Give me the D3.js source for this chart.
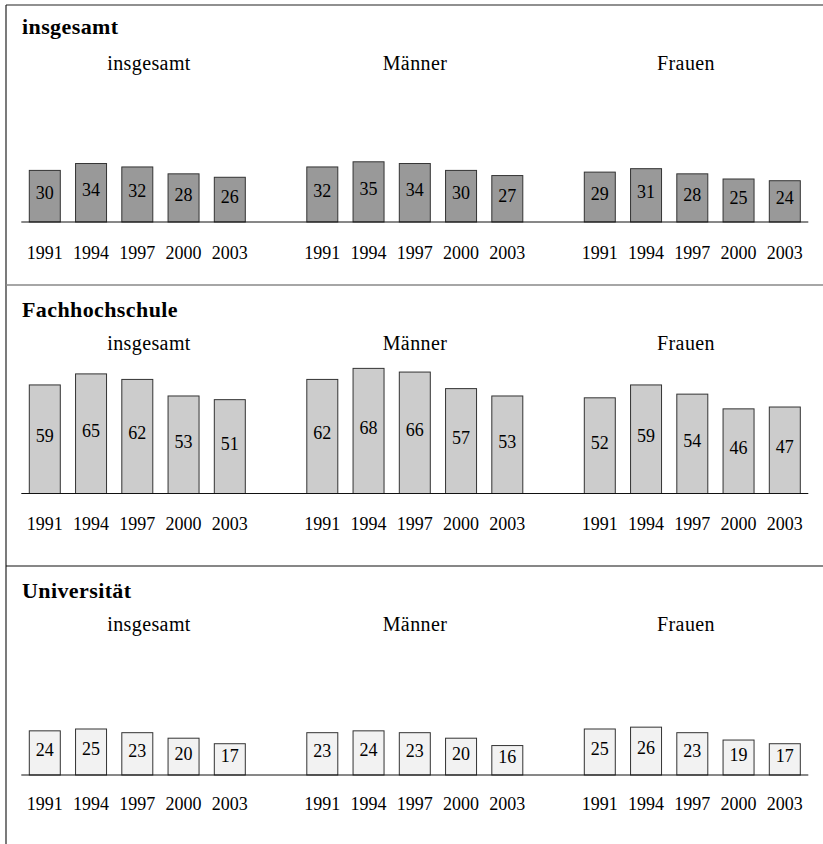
<!DOCTYPE html>
<html>
<head>
<meta charset="utf-8">
<script src="https://cdn.jsdelivr.net/npm/d3@7"></script>
<style>
  html, body { margin: 0; padding: 0; background: #fff; }
  svg { display: block; font-family: "Liberation Serif", "Times New Roman", serif; }
</style>
</head>
<body>
<svg id="chart" width="823" height="844"></svg>
<script>
// ---- data ----
const panelTitles = ["insgesamt", "Fachhochschule", "Universität"];
const groups = ["insgesamt", "Männer", "Frauen"];
const years = ["1991", "1994", "1997", "2000", "2003"];

const insgesamtValues = [
  [30, 34, 32, 28, 26],
  [32, 35, 34, 30, 27],
  [29, 31, 28, 25, 24]
];
const fachhochschuleValues = [
  [59, 65, 62, 53, 51],
  [62, 68, 66, 57, 53],
  [52, 59, 54, 46, 47]
];
const universitaetValues = [
  [24, 25, 23, 20, 17],
  [23, 24, 23, 20, 16],
  [25, 26, 23, 19, 17]
];
const panelValues = [insgesamtValues, fachhochschuleValues, universitaetValues];

// ---- layout ----
const svg = d3.select("#chart");
const panels = [
  { top: 5,   titleY: 33.5,  subY: 70,  base: 222,   pxPer: 1.72, yearY: 259, fill: "#999999" },
  { top: 285, titleY: 316.5, subY: 350, base: 493.5, pxPer: 1.84, yearY: 530, fill: "#cccccc" },
  { top: 566, titleY: 598,   subY: 631, base: 775,   pxPer: 1.84, yearY: 810, fill: "#f2f2f2" }
];
const subX = [149, 415, 686];

const outer = d3.scaleBand().domain(groups).range([29.3, 29.3 + 3 * 277.5]);
const inner = d3.scaleBand().domain(years).range([0, 216]).paddingInner(0.33);

// frame
svg.append("line").attr("x1", 6).attr("x2", 6).attr("y1", 5).attr("y2", 844)
  .attr("stroke", "#222").attr("stroke-width", 1.2);
svg.append("line").attr("x1", 6).attr("x2", 823).attr("y1", 5).attr("y2", 5)
  .attr("stroke", "#222").attr("stroke-width", 1.2);
svg.append("line").attr("x1", 6).attr("x2", 823).attr("y1", 285).attr("y2", 285)
  .attr("stroke", "#888").attr("stroke-width", 1.5);
svg.append("line").attr("x1", 6).attr("x2", 823).attr("y1", 566).attr("y2", 566)
  .attr("stroke", "#111").attr("stroke-width", 1.2);

panels.forEach((p, pi) => {
  const g = svg.append("g");
  const y = d3.scaleLinear().domain([0, 100]).range([p.base, p.base - 100 * p.pxPer]);

  g.append("text").attr("x", 22).attr("y", p.titleY)
    .attr("font-size", 22).attr("font-weight", "bold").attr("letter-spacing", 0.4)
    .text(panelTitles[pi]);

  groups.forEach((grp, gi) => {
    g.append("text").attr("x", subX[gi]).attr("y", p.subY)
      .attr("text-anchor", "middle").attr("font-size", 20).attr("letter-spacing", 0.4)
      .text(grp);

    const vals = panelValues[pi][gi];
    const data = years.map((yr, i) => ({ yr, v: vals[i] }));
    const gx = outer(grp);

    g.selectAll(null).data(data).enter().append("rect")
      .attr("x", d => gx + inner(d.yr))
      .attr("y", d => y(d.v))
      .attr("width", inner.bandwidth())
      .attr("height", d => y(0) - y(d.v))
      .attr("fill", p.fill)
      .attr("stroke", "#333").attr("stroke-width", 1);

    g.selectAll(null).data(data).enter().append("text")
      .attr("x", d => gx + inner(d.yr) + inner.bandwidth() / 2)
      .attr("y", d => (y(d.v) + y(0)) / 2 + 3)
      .attr("text-anchor", "middle").attr("font-size", 18)
      .text(d => d.v);

    g.selectAll(null).data(data).enter().append("text")
      .attr("x", d => gx + inner(d.yr) + inner.bandwidth() / 2)
      .attr("y", p.yearY)
      .attr("text-anchor", "middle").attr("font-size", 18)
      .text(d => d.yr);
  });

  // baseline
  const x0 = outer(groups[0]) - 8;
  const x1 = outer(groups[2]) + inner.range()[1] + 8;
  g.append("line").attr("x1", x0).attr("x2", x1).attr("y1", p.base).attr("y2", p.base)
    .attr("stroke", "#111").attr("stroke-width", 1);
});
</script>
</body>
</html>
